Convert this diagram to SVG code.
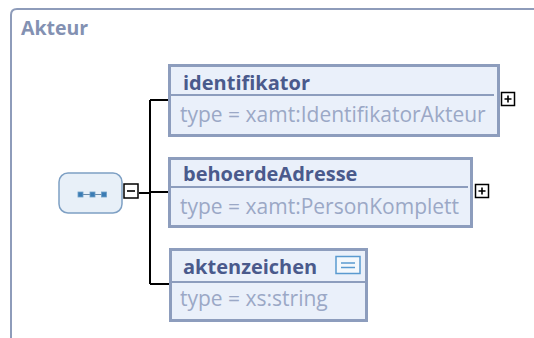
<svg xmlns="http://www.w3.org/2000/svg" width="534" height="338" viewBox="0 0 534 338">
<style>
.frame{fill:#fff;stroke:#8e9cba;stroke-width:2}
.title{font-family:"Open Sans",sans-serif;font-weight:bold;font-size:19.5px;fill:#8391b2}
.box{fill:#eaf0fa;stroke:#8d9dbd;stroke-width:3}
.div{stroke:#8d9dbd;stroke-width:2}
.name{font-family:"Open Sans",sans-serif;font-weight:bold;font-size:20px;fill:#4a5a8c}
.type{font-family:"Open Sans",sans-serif;font-size:21px;fill:#9ba8c6}
.conn{fill:none;stroke:#000;stroke-width:2}
.tog{fill:#fff;stroke:#000;stroke-width:1.5}
.sym{stroke:#000;stroke-width:1.6}
.dot{fill:#3b7cb4;stroke:#6fa0c8;stroke-width:0.8}
</style>
<path class="frame" d="M11,345 V15 Q11,9 17,9 H545"/>
<text class="title" x="21" y="35">Akteur</text>
<g id="connectors">
<path class="conn" d="M139,193 H150 M150,100 V284 M150,100 H168 M150,192 H168 M150,284 H169"/>
</g>
<g id="sequence">
<rect x="59" y="173" width="63" height="40" rx="9" fill="#e8f0f8" stroke="#7ea0c4" stroke-width="1.5"/>
<path d="M80,194.5 H104" stroke="#6a8aa8" stroke-width="1"/>
<rect class="dot" x="78" y="192" width="5" height="5"/>
<rect class="dot" x="90" y="192" width="5" height="5"/>
<rect class="dot" x="101.5" y="192" width="5" height="5"/>
<rect class="tog" x="124" y="184" width="14" height="14"/>
<path class="sym" d="M127,191 H135"/>
</g>
<g id="identifikator">
<rect class="box" x="169.5" y="65.5" width="329" height="70"/>
<path class="div" d="M170,95 H494"/>
<text class="name" x="183" y="90">identifikator</text>
<text class="type" x="180" y="122">type = xamt:IdentifikatorAkteur</text>
<rect class="tog" x="501.5" y="92.5" width="13" height="13"/>
<path class="sym" d="M504.5,99 H511.5 M508,95.5 V102.5"/>
</g>
<g id="behoerdeAdresse">
<rect class="box" x="169.5" y="158.5" width="302" height="68"/>
<path class="div" d="M170,187 H468"/>
<text class="name" x="183" y="181">behoerdeAdresse</text>
<text class="type" x="180" y="214">type = xamt:PersonKomplett</text>
<rect class="tog" x="475.5" y="184.5" width="13" height="13"/>
<path class="sym" d="M478.5,191 H485.5 M482,187.5 V194.5"/>
</g>
<g id="aktenzeichen">
<rect class="box" x="170.5" y="249.5" width="196" height="71"/>
<path class="div" d="M171,282 H365"/>
<text class="name" x="183" y="274">aktenzeichen</text>
<text class="type" x="180" y="306">type = xs:string</text>
<rect x="336" y="256.5" width="24" height="17" fill="#f4f8fc" stroke="#5a9ad0" stroke-width="1.5"/>
<path d="M341,263 H355 M341,267.5 H355" stroke="#5a9ad0" stroke-width="1.5"/>
</g>
</svg>
